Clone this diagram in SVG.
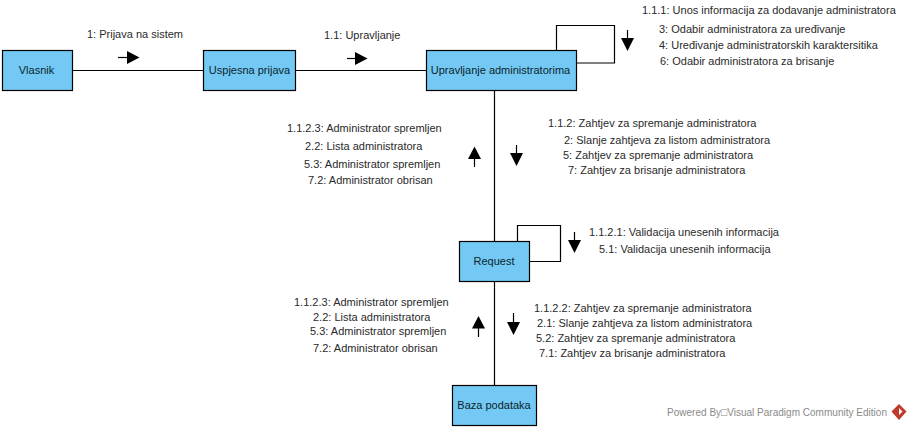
<svg xmlns="http://www.w3.org/2000/svg" width="911" height="429" viewBox="0 0 911 429">
<defs>
<style>
.n{fill:#73c9f3;stroke:#000;stroke-width:1.2}
.l{font:11px "Liberation Sans",Arial,sans-serif;fill:#2a2a2a}
.nt{font:11px "Liberation Sans",Arial,sans-serif;fill:#0c1f2c;text-anchor:middle}
.c{fill:none;stroke:#000;stroke-width:1.2}
.a{fill:#000}
</style>
</defs>
<rect width="911" height="429" fill="#fff"/>
<g id="connectors">
<path class="c" d="M72 70.500H203.500M295 70.500H426.500M494.500 90V241M494.500 281V385"/>
<path class="c" d="M556.500 50V25.500H614.500V63H576M517.500 241V225.500H560.500V261.500H529"/>
<g id="arrows">
<path class="c" d="M118 57.500H130"/><path class="a" d="M127 51L139.500 57.500L127 64Z"/>
<path class="c" d="M347 58.500H359"/><path class="a" d="M355 52L367.500 58.500L355 65Z"/>
<path class="c" d="M627.500 30V40"/><path class="a" d="M621 38H634L627.500 51Z"/>
<path class="c" d="M474.500 158V167"/><path class="a" d="M468 159H481L474.500 146.500Z"/>
<path class="c" d="M516.500 145V155"/><path class="a" d="M510 153H523L516.500 166Z"/>
<path class="c" d="M574.500 232V242"/><path class="a" d="M568 240H581L574.500 253Z"/>
<path class="c" d="M478.500 327V337"/><path class="a" d="M472 328.500H485L478.500 316Z"/>
<path class="c" d="M513.500 313V324"/><path class="a" d="M507 322H520L513.500 335Z"/>
</g>
</g>
<g id="vlasnik"><rect class="n" x="2.500" y="50.500" width="70" height="40"/><text class="nt" x="36.500" y="74">Vlasnik</text></g>
<g id="uspjesna-prijava"><rect class="n" x="203.500" y="50.500" width="92" height="40"/><text class="nt" x="249.500" y="74">Uspjesna prijava</text></g>
<g id="upravljanje-administratorima"><rect class="n" x="426.500" y="50.500" width="150" height="40"/><text class="nt" x="500.500" y="74">Upravljanje administratorima</text></g>
<g id="request"><rect class="n" x="459.500" y="241.500" width="70" height="40"/><text class="nt" x="494" y="265">Request</text></g>
<g id="baza-podataka"><rect class="n" x="452.500" y="385.500" width="84" height="40"/><text class="nt" x="494" y="409">Baza podataka</text></g>
<g id="labels">
<text class="l" x="87" y="38">1: Prijava na sistem</text>
<text class="l" x="324" y="39">1.1: Upravljanje</text>
<text class="l" x="642" y="14">1.1.1: Unos informacija za dodavanje administratora</text>
<text class="l" x="659" y="33">3: Odabir administratora za uređivanje</text>
<text class="l" x="659" y="49">4: Uređivanje administratorskih karaktersitika</text>
<text class="l" x="660" y="65">6: Odabir administratora za brisanje</text>
<text class="l" x="287" y="132">1.1.2.3: Administrator spremljen</text>
<text class="l" x="305" y="150">2.2: Lista administratora</text>
<text class="l" x="304" y="168">5.3: Administrator spremljen</text>
<text class="l" x="308" y="184">7.2: Administrator obrisan</text>
<text class="l" x="548" y="127">1.1.2: Zahtjev za spremanje administratora</text>
<text class="l" x="564" y="144">2: Slanje zahtjeva za listom administratora</text>
<text class="l" x="563" y="159">5: Zahtjev za spremanje administratora</text>
<text class="l" x="568" y="174">7: Zahtjev za brisanje administratora</text>
<text class="l" x="589" y="236">1.1.2.1: Validacija unesenih informacija</text>
<text class="l" x="599" y="253">5.1: Validacija unesenih informacija</text>
<text class="l" x="294" y="306">1.1.2.3: Administrator spremljen</text>
<text class="l" x="313" y="321">2.2: Lista administratora</text>
<text class="l" x="310" y="335">5.3: Administrator spremljen</text>
<text class="l" x="313" y="352">7.2: Administrator obrisan</text>
<text class="l" x="534" y="312">1.1.2.2: Zahtjev za spremanje administratora</text>
<text class="l" x="537" y="327">2.1: Slanje zahtjeva za listom administratora</text>
<text class="l" x="536" y="342">5.2: Zahtjev za spremanje administratora</text>
<text class="l" x="539" y="357">7.1: Zahtjev za brisanje administratora</text>
</g>
<g id="watermark">
<text x="667" y="416" textLength="220" lengthAdjust="spacingAndGlyphs" style="font:10.500px 'Liberation Sans','DejaVu Sans',sans-serif;fill:#8a8a8a">Powered By□Visual Paradigm Community Edition</text>
<path d="M899 404L906.500 411.500L899 420L891.500 411.500Z" fill="#c0392b"/>
<path d="M899 408L902.500 411.500L899 415Z" fill="#fff"/>
</g>
</svg>
